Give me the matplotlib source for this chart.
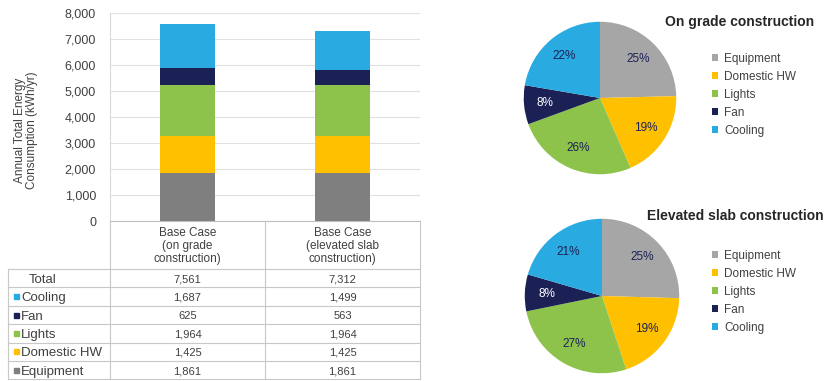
import matplotlib.pyplot as plt
from matplotlib.patches import Rectangle

# 数据
categories = ["Base Case\n(on grade\nconstruction)", "Base Case\n(elevated slab\nconstruction)"]
end_uses = ["Equipment", "Domestic HW", "Lights", "Fan", "Cooling"]
equipment = [1861, 1861]
domestic_hw = [1425, 1425]
lights = [1964, 1964]
fan = [625, 563]
cooling = [1687, 1499]
totals = [7561, 7312]
pie_titles = ["On grade construction", "Elevated slab construction"]

bar_colors = ["#7f7f7f", "#ffc000", "#8dc34a", "#1c2155", "#29abe2"]
pie_colors = ["#a6a6a6", "#ffc000", "#8dc34a", "#1c2155", "#29abe2"]

W, H = 829, 381
plt.rcParams["font.family"] = ["Liberation Sans", "DejaVu Sans"]
fig = plt.figure(figsize=(W / 100, H / 100), dpi=100)
txt_c = "#404040"


def px_axes(left, top, width, height):
    # 像素坐标 -> figure坐标
    return fig.add_axes([left / W, (H - top - height) / H, width / W, height / H])


# ---------------- 堆叠柱状图 ----------------
ax = px_axes(110, 13, 310, 208)
series = [equipment, domestic_hw, lights, fan, cooling]
x = range(len(categories))
bottom = [0, 0]
for vals, c in zip(series, bar_colors):
    ax.bar(x, vals, width=0.36, bottom=bottom, color=c, zorder=3)
    bottom = [b + v for b, v in zip(bottom, vals)]
ax.set_xlim(-0.5, 1.5)
ax.set_ylim(0, 8000)
ax.set_yticks(range(0, 8001, 1000))
ax.set_yticklabels([f"{v:,}" for v in range(0, 8001, 1000)], fontsize=9, color=txt_c)
ax.set_xticks([])
ax.grid(axis="y", color="#e0e0e0", linewidth=0.8, zorder=0)
for s in ["top", "right"]:
    ax.spines[s].set_visible(False)
ax.spines["left"].set_color("#d9d9d9")
ax.spines["bottom"].set_color("#bfbfbf")
ax.tick_params(axis="y", length=0, pad=10)
fig.text(26 / W, 1 - 130 / H, "Annual Total Energy\nConsumption (kWh/yr)", rotation=90,
         ha="center", va="center", fontsize=8.5, color=txt_c, linespacing=1.1)

# ---------------- 数据表 ----------------
tab = fig.add_axes([0, 0, 1, 1], zorder=-1)
tab.set_xlim(0, W)
tab.set_ylim(H, 0)
tab.axis("off")
col_x = [8, 110, 265, 420]
row_top = 269
row_h = 18.4
rows = [("Total", None, totals)]
for i in reversed(range(len(end_uses))):
    rows.append((end_uses[i], bar_colors[i], series[i]))
line_c = "#c8c8c8"
# 表头
for xv in col_x[1:]:
    tab.plot([xv, xv], [221, row_top + row_h * len(rows)], color=line_c, lw=0.8)
for j, cat in enumerate(categories):
    cx = (col_x[j + 1] + col_x[j + 2]) / 2
    tab.text(cx, 246, cat, ha="center", va="center", fontsize=8.5, color=txt_c, linespacing=1.12)
# 行
for i in range(len(rows) + 1):
    y = row_top + row_h * i
    tab.plot([col_x[0], col_x[-1]], [y, y], color=line_c, lw=0.8)
tab.plot([col_x[0], col_x[0]], [row_top, row_top + row_h * len(rows)], color=line_c, lw=0.8)
for i, (name, c, vals) in enumerate(rows):
    yc = row_top + row_h * (i + 0.5)
    if c is not None:
        tab.add_patch(Rectangle((14, yc - 2.5), 5, 5, color=c))
        tab.text(21, yc, name, ha="left", va="center_baseline", fontsize=9.5, color=txt_c)
    else:
        tab.text(29, yc, name, ha="left", va="center_baseline", fontsize=9.5, color=txt_c)
    for j, v in enumerate(vals):
        cx = (col_x[j + 1] + col_x[j + 2]) / 2
        tab.text(cx, yc, f"{v:,}", ha="center", va="center_baseline", fontsize=8, color=txt_c)

# ---------------- 饼图 ----------------
pie_boxes = [(523, 21, 154), (524, 218, 156)]
title_pos = [(740, 22), (735, 216)]
legend_top = [53, 250]
for k, (l, t, s) in enumerate(pie_boxes):
    pa = px_axes(l, t, s, s)
    vals = [series[i][k] for i in range(len(end_uses))]
    wedges, _, autotexts = pa.pie(
        vals, colors=pie_colors, startangle=90, counterclock=False,
        autopct="%.0f%%", pctdistance=0.72, radius=1,
        textprops=dict(fontsize=8.5, color="#1c2155"),
    )
    autotexts[3].set_color("white")
    pa.set_xlim(-1.01, 1.01)
    pa.set_ylim(-1.01, 1.01)
    pa.set_aspect("equal")
    fig.text(title_pos[k][0] / W, 1 - title_pos[k][1] / H, pie_titles[k], ha="center", va="center",
             fontsize=10, fontweight="bold", color="#262626")
    fig.legend(wedges, end_uses, loc="upper left", bbox_to_anchor=(712 / W, 1 - legend_top[k] / H),
               frameon=False, fontsize=8.5, handlelength=0.55, handleheight=0.55, handletextpad=0.5,
               labelspacing=0.5, labelcolor=txt_c, borderaxespad=0, borderpad=0)

fig.savefig("out.png", dpi=100)
